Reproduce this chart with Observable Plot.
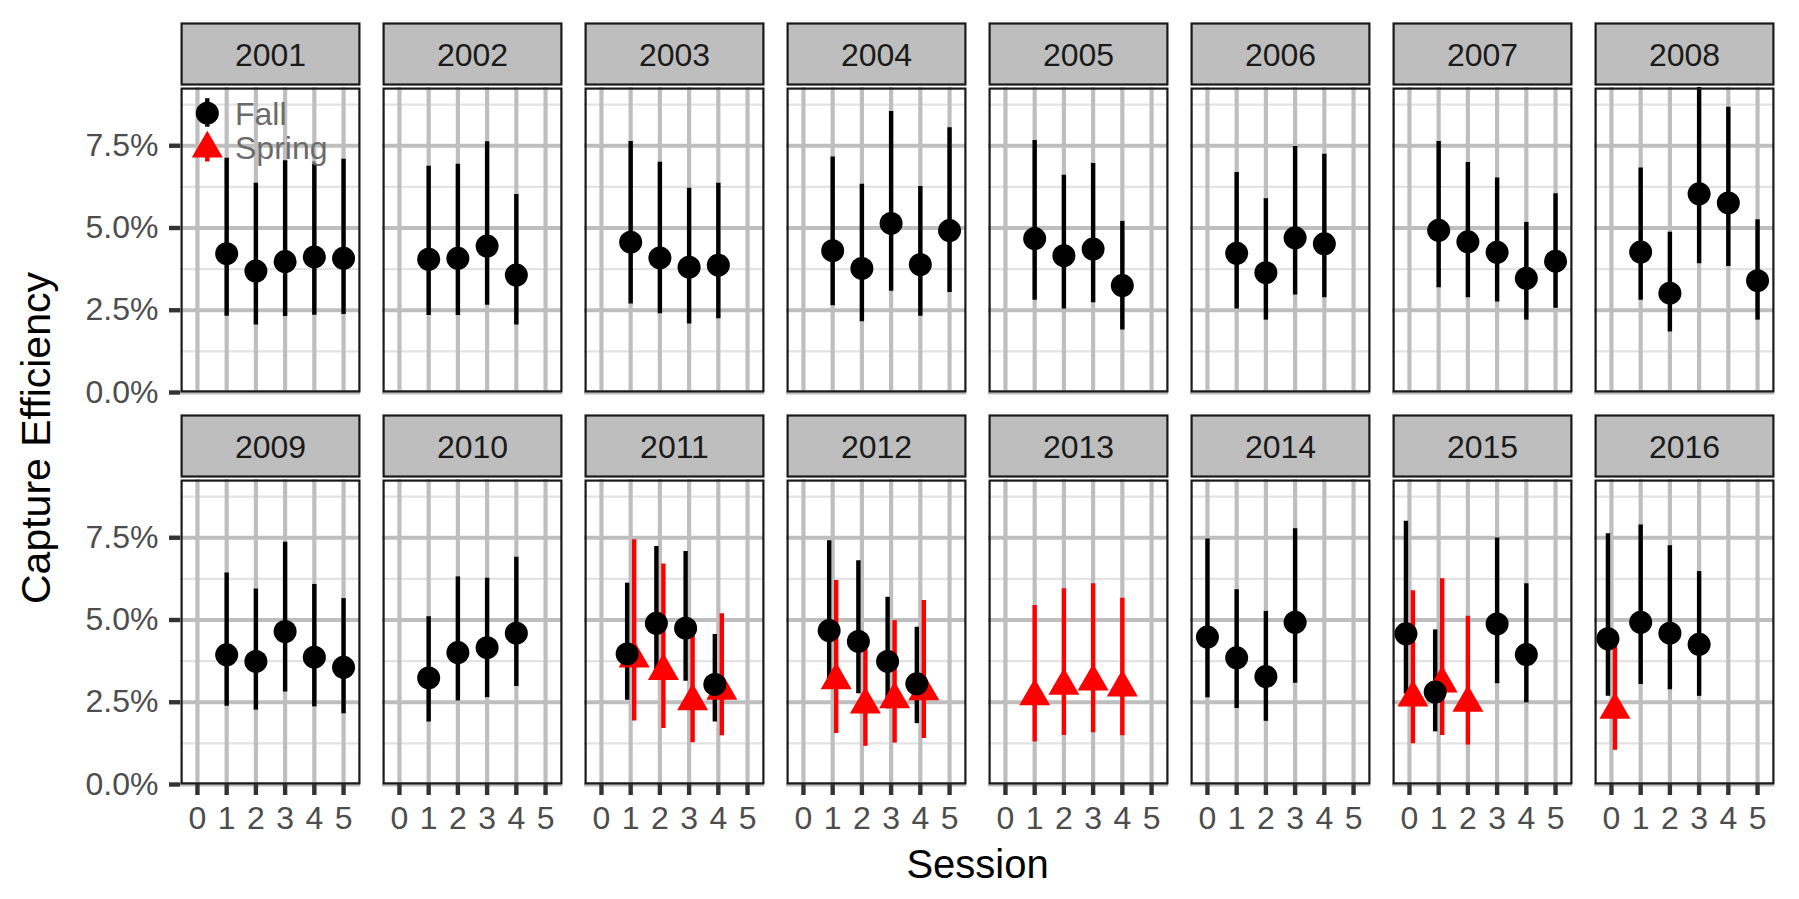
<!DOCTYPE html>
<html>
<head>
<meta charset="utf-8">
<script src="https://cdn.jsdelivr.net/npm/d3@7"></script>
<script src="https://cdn.jsdelivr.net/npm/@observablehq/plot@0.6"></script>
<style>
  html, body { margin: 0; padding: 0; background: #ffffff; }
  #chart svg { display: block; }
</style>
</head>
<body>
<div id="chart"></div>
<script>
// ---------------- data ----------------
const years = [2001, 2002, 2003, 2004, 2005, 2006, 2007, 2008,
               2009, 2010, 2011, 2012, 2013, 2014, 2015, 2016];
const sessionTicks = [0, 1, 2, 3, 4, 5];
const yTicks = [0, 0.025, 0.05, 0.075];
const yMinorTicks = [0.0125, 0.0375, 0.0625, 0.0875];
const seriesNames = ["Fall", "Spring"];
const seriesColors = ["black", "red"];

// [year, session, estimate %, lower %, upper %]
const fallEstimates = [
  [2001, 1, 4.22, 2.32, 7.12], [2001, 2, 3.69, 2.05, 6.36], [2001, 3, 3.98, 2.31, 7.04], [2001, 4, 4.12, 2.35, 6.94], [2001, 5, 4.08, 2.37, 7.09],
  [2002, 1, 4.05, 2.34, 6.88], [2002, 2, 4.08, 2.34, 6.94], [2002, 3, 4.45, 2.65, 7.62], [2002, 4, 3.57, 2.05, 6.02],
  [2003, 1, 4.57, 2.69, 7.63], [2003, 2, 4.09, 2.39, 7.00], [2003, 3, 3.81, 2.08, 6.21], [2003, 4, 3.87, 2.24, 6.36],
  [2004, 1, 4.31, 2.64, 7.16], [2004, 2, 3.77, 2.15, 6.33], [2004, 3, 5.14, 3.08, 8.54], [2004, 4, 3.89, 2.32, 6.26], [2004, 5, 4.92, 3.04, 8.05],
  [2005, 1, 4.68, 2.80, 7.66], [2005, 2, 4.16, 2.54, 6.60], [2005, 3, 4.36, 2.73, 6.96], [2005, 4, 3.25, 1.90, 5.20],
  [2006, 1, 4.23, 2.54, 6.69], [2006, 2, 3.64, 2.20, 5.89], [2006, 3, 4.70, 2.96, 7.48], [2006, 4, 4.52, 2.88, 7.24],
  [2007, 1, 4.93, 3.18, 7.63], [2007, 2, 4.58, 2.88, 6.99], [2007, 3, 4.26, 2.75, 6.52], [2007, 4, 3.47, 2.20, 5.17], [2007, 5, 3.99, 2.56, 6.04],
  [2008, 1, 4.27, 2.80, 6.82], [2008, 2, 3.02, 1.84, 4.87], [2008, 3, 6.04, 3.91, 9.60], [2008, 4, 5.76, 3.83, 8.67], [2008, 5, 3.40, 2.20, 5.25],
  [2009, 1, 3.94, 2.38, 6.43], [2009, 2, 3.74, 2.26, 5.94], [2009, 3, 4.65, 2.81, 7.36], [2009, 4, 3.87, 2.36, 6.08], [2009, 5, 3.56, 2.15, 5.65],
  [2010, 1, 3.24, 1.90, 5.10], [2010, 2, 4.01, 2.54, 6.31], [2010, 3, 4.16, 2.64, 6.27], [2010, 4, 4.60, 2.98, 6.91],
  [2011, 1, 3.97, 2.56, 6.12], [2011, 2, 4.90, 3.18, 7.23], [2011, 3, 4.75, 3.14, 7.08], [2011, 4, 3.04, 1.90, 4.56],
  [2012, 1, 4.68, 3.10, 7.41], [2012, 2, 4.35, 2.76, 6.80], [2012, 3, 3.74, 2.30, 5.69], [2012, 4, 3.06, 1.85, 4.78],
  [2014, 0, 4.48, 2.64, 7.46], [2014, 1, 3.85, 2.31, 5.92], [2014, 2, 3.28, 1.92, 5.26], [2014, 3, 4.93, 3.08, 7.77],
  [2015, 0, 4.58, 2.75, 8.00], [2015, 1, 2.81, 1.60, 4.70], [2015, 3, 4.88, 3.06, 7.49], [2015, 4, 3.95, 2.48, 6.10],
  [2016, 0, 4.43, 2.68, 7.62], [2016, 1, 4.93, 3.04, 7.89], [2016, 2, 4.60, 2.88, 7.26], [2016, 3, 4.26, 2.68, 6.47]
];

const springEstimates = [
  [2011, 1, 3.83, 1.93, 7.44], [2011, 2, 3.45, 1.70, 6.70], [2011, 3, 2.53, 1.27, 4.80], [2011, 4, 2.85, 1.48, 5.19],
  [2012, 1, 3.17, 1.55, 6.20], [2012, 2, 2.43, 1.16, 4.40], [2012, 3, 2.59, 1.26, 4.98], [2012, 4, 2.83, 1.40, 5.59],
  [2013, 1, 2.68, 1.29, 5.44], [2013, 2, 3.00, 1.49, 5.95], [2013, 3, 3.13, 1.57, 6.10], [2013, 4, 2.95, 1.48, 5.66],
  [2015, 0, 2.64, 1.24, 5.89], [2015, 1, 3.07, 1.49, 6.25], [2015, 2, 2.48, 1.20, 5.11],
  [2016, 0, 2.27, 1.04, 4.60]
];

// ---------------- table for Plot ----------------
const NCOL = 8;
const rows = [];
[[seriesNames[0], fallEstimates], [seriesNames[1], springEstimates]].forEach(([series, arr]) => {
  for (const [year, session, est, lo, hi] of arr) {
    const i = years.indexOf(year);
    rows.push({series, year, session, est: est / 100, lo: lo / 100, hi: hi / 100,
               col: i % NCOL, row: Math.floor(i / NCOL)});
  }
});
// position_dodge: shift only where both seasons share a session
const dodgeWidth = 0.12;
const keyOf = d => d.year + ":" + d.session;
const counts = d3.rollup(rows, v => v.length, keyOf);
for (const d of rows) {
  d.xpos = counts.get(keyOf(d)) > 1
    ? d.session + (d.series === seriesNames[0] ? -dodgeWidth : dodgeWidth)
    : d.session;
}
const dotRows = rows.slice().sort((a, b) => seriesNames.indexOf(b.series) - seriesNames.indexOf(a.series));
const panels = years.map((year, i) => ({year, col: i % NCOL, row: Math.floor(i / NCOL)}));
const firstPanel = [{col: 0, row: 0}];

// legend key glyphs (point + bar)
const fallKey = {
  draw(ctx, size) {
    const r = Math.sqrt(size / Math.PI);
    ctx.moveTo(r, 0); ctx.arc(0, 0, r, 0, 2 * Math.PI); ctx.closePath();
    ctx.rect(-2.2, -15, 4.4, 28.5);
  }
};
const springKey = {
  draw(ctx, size) {
    const y = -Math.sqrt(size / (3 * Math.sqrt(3)));
    const s = Math.sqrt(3);
    ctx.moveTo(0, 2 * y); ctx.lineTo(-s * y, -y); ctx.lineTo(s * y, -y); ctx.closePath();
    ctx.rect(-2.2, -10, 4.4, 23);
  }
};

const FONT = "'Liberation Sans', Arial, Helvetica, sans-serif";
const GRID = "#BEBEBE";

const chart = Plot.plot({
  width: 1799,
  height: 899,
  marginLeft: 177,
  marginRight: 22,
  marginTop: 86,
  marginBottom: 115,
  style: {fontFamily: FONT, background: "#ffffff", overflow: "visible"},
  fx: {domain: d3.range(NCOL), paddingInner: 0.1095, paddingOuter: 0, axis: null, label: null},
  fy: {domain: [0, 1], paddingInner: 0.2222, paddingOuter: 0, axis: null, label: null},
  x: {domain: [-0.58, 5.58]},
  y: {domain: [0, 0.0927]},
  color: {domain: seriesNames, range: seriesColors, legend: false},
  symbol: {domain: seriesNames, range: ["circle", "triangle"], legend: false},
  marks: [
    // strip backgrounds
    Plot.frame({fill: GRID, stroke: "#1A1A1A", strokeWidth: 2.2, insetTop: -64, insetBottom: 308, insetLeft: 1.1, insetRight: 1.1}),
    // grid
    Plot.gridY({ticks: yMinorTicks, stroke: "#E3E3E3", strokeOpacity: 1, strokeWidth: 2.2}),
    Plot.gridX({ticks: sessionTicks, stroke: GRID, strokeOpacity: 1, strokeWidth: 4.2}),
    Plot.gridY({ticks: yTicks, stroke: GRID, strokeOpacity: 1, strokeWidth: 4.2}),
    // error bars
    Plot.ruleX(rows, {fx: "col", fy: "row", x: "xpos", y1: "lo", y2: "hi", stroke: "series", strokeWidth: 4.4, clip: true}),
    // points
    Plot.dot(dotRows, {fx: "col", fy: "row", x: "xpos", y: "est", symbol: "series", fill: "series", r: 11.5}),
    // panel border
    Plot.frame({stroke: "#1A1A1A", strokeWidth: 2.2, inset: 1.1}),
    // strip labels
    Plot.text(panels, {fx: "col", fy: "row", text: d => String(d.year), frameAnchor: "top", dy: -31.5,
                       textAnchor: "middle", lineAnchor: "middle", fontSize: 32, fill: "#1A1A1A"}),
    // axes
    Plot.axisX({ticks: sessionTicks, tickFormat: "d", tickSize: 11, tickPadding: 11, fontSize: 32,
                stroke: "#333333", strokeWidth: 4.4, fill: "#4D4D4D", facetAnchor: "bottom", label: null}),
    Plot.axisY({ticks: yTicks, tickFormat: d3.format(".1%"), tickSize: 11, tickPadding: 11, fontSize: 32,
                stroke: "#333333", strokeWidth: 4.4, fill: "#4D4D4D", facetAnchor: "left", label: null}),
    // axis titles
    Plot.text([{col: 3, row: 1, label: "Session"}], {fx: "col", fy: "row", text: "label", frameAnchor: "bottom-right",
               dx: 11.1, dy: 93.7, textAnchor: "middle", lineAnchor: "bottom", fontSize: 40, fill: "#000000"}),
    Plot.text([{col: 0, row: 0, label: "Capture Efficiency"}], {fx: "col", fy: "row", text: "label", frameAnchor: "bottom-left",
               dx: -143.5, dy: 45.5, rotate: -90, textAnchor: "middle", lineAnchor: "middle", fontSize: 41, fill: "#000000"}),
    // legend inside the first panel
    Plot.dot(firstPanel, {fx: "col", fy: "row", frameAnchor: "top-left", dx: 26.8, dy: 25.7, r: 11.5, symbol: fallKey, fill: seriesColors[0]}),
    Plot.dot(firstPanel, {fx: "col", fy: "row", frameAnchor: "top-left", dx: 26.8, dy: 61.1, r: 11.5, symbol: springKey, fill: seriesColors[1]}),
    Plot.text(firstPanel, {fx: "col", fy: "row", text: () => seriesNames[0], frameAnchor: "top-left", dx: 54.5, dy: 37.3,
               textAnchor: "start", lineAnchor: "bottom", fontSize: 32, fill: "#6B6B6B"}),
    Plot.text(firstPanel, {fx: "col", fy: "row", text: () => seriesNames[1], frameAnchor: "top-left", dx: 54.5, dy: 71.7,
               textAnchor: "start", lineAnchor: "bottom", fontSize: 32, fill: "#6B6B6B"})
  ]
});
document.getElementById("chart").appendChild(chart);
</script>
</body>
</html>
